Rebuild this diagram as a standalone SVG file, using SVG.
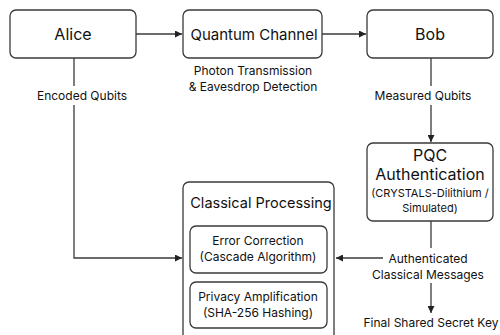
<svg xmlns="http://www.w3.org/2000/svg" width="500" height="335" viewBox="0 0 500 335">
<defs>
<marker id="ah" viewBox="0 0 10 10" refX="10" refY="5" markerWidth="7" markerHeight="7" markerUnits="userSpaceOnUse" orient="auto">
<path d="M0,0 L10,5 L0,10 z" fill="#222"/>
</marker>
<style>
.box{fill:#fff;stroke:#3a3a3a;stroke-width:1.3}
.t{font-family:Inter,"Liberation Sans",sans-serif;fill:#111;text-anchor:middle}
.big{font-size:15px}
.mid{font-size:12px}
.sm{font-size:11px}
.c{fill:none;stroke:#3a3a3a;stroke-width:1.3}
</style>
</defs>
<rect width="500" height="335" fill="#fff"/>
<g id="connectors">
<path class="c" d="M136,34 H182" marker-end="url(#ah)"/>
<path class="c" d="M322,34 H366" marker-end="url(#ah)"/>
<path class="c" d="M74,58 V86 M74,105 V258 H182" marker-end="url(#ah)"/>
<path class="c" d="M431,58 V86 M431,105 V142" marker-end="url(#ah)"/>
<path class="c" d="M431,221 V248"/>
<path class="c" d="M383,258 H336" marker-end="url(#ah)"/>
<path class="c" d="M431,283 V313" marker-end="url(#ah)"/>
<text class="t mid" x="82" y="100">Encoded Qubits</text>
<text class="t mid" x="423" y="100">Measured Qubits</text>
<text class="t mid" x="253" y="75">Photon Transmission</text>
<text class="t mid" x="253" y="91">&amp; Eavesdrop Detection</text>
<text class="t mid" x="428" y="263">Authenticated</text>
<text class="t mid" x="428" y="279">Classical Messages</text>
<text class="t mid" x="431" y="327">Final Shared Secret Key</text>
</g>
<g id="alice">
<rect class="box" x="10" y="10" width="126" height="48" rx="6"/>
<text class="t" style="font-size:16px" x="73" y="40">Alice</text>
</g>
<g id="quantum-channel">
<rect class="box" x="183" y="10" width="139" height="48" rx="6"/>
<text class="t big" x="254" y="40">Quantum Channel</text>
</g>
<g id="bob">
<rect class="box" x="367" y="10" width="126" height="48" rx="6"/>
<text class="t" style="font-size:16px" x="430" y="40">Bob</text>
</g>
<g id="pqc">
<rect class="box" x="367" y="143" width="126" height="78" rx="6"/>
<text class="t" style="font-size:16px" x="430" y="161">PQC</text>
<text class="t" style="font-size:16px" x="430" y="180">Authentication</text>
<text class="t sm" x="430" y="197">(CRYSTALS-Dilithium /</text>
<text class="t sm" x="430" y="212">Simulated)</text>
</g>
<g id="classical-processing">
<rect class="box" x="183" y="182" width="151" height="170" rx="6"/>
<text class="t" style="font-size:14.5px" x="261" y="208">Classical Processing</text>
<g id="error-correction">
<rect class="box" x="190" y="226" width="137" height="47" rx="6"/>
<text class="t mid" x="258" y="245">Error Correction</text>
<text class="t mid" x="258" y="261">(Cascade Algorithm)</text>
</g>
<g id="privacy-amplification">
<rect class="box" x="190" y="282" width="137" height="46" rx="6"/>
<text class="t mid" x="258" y="301">Privacy Amplification</text>
<text class="t mid" x="258" y="317">(SHA-256 Hashing)</text>
</g>
</g>
</svg>
